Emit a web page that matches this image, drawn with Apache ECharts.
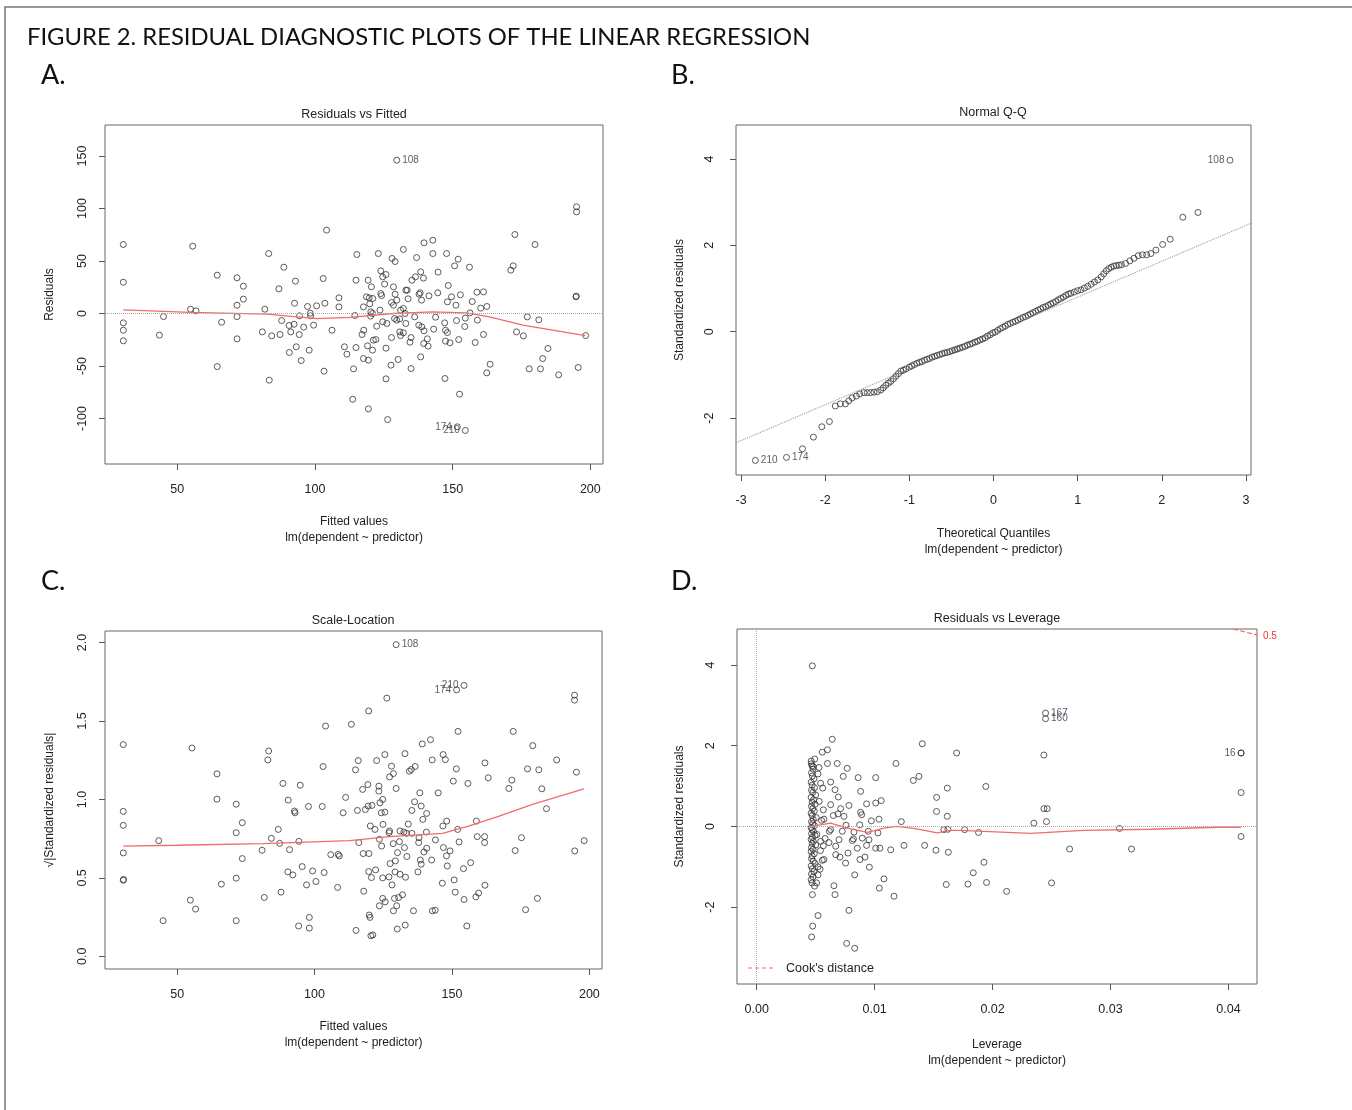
<!DOCTYPE html>
<html>
<head>
<meta charset="utf-8">
<script src="https://cdn.jsdelivr.net/npm/echarts@6/dist/echarts.min.js"></script>
<style>
  html, body { margin: 0; padding: 0; background: #fff; }
  #main { width: 1352px; height: 1110px; }
</style>
</head>
<body>
<div id="main"></div>
<script>
// A. Residuals vs Fitted
var fitA = [30.4,30.4,30.4,30.4,30.4,43.5,45,54.8,56.8,55.6,64.5,64.5,66.1,71.7,74,74,71.7,71.7,71.7,80.9,81.8,83.2,83.4,84.3,86.9,87.3,87.9,88.7,90.6,90.7,91.2,92.4,92.6,92.9,93.2,94.3,94.4,95,95.9,97.3,97.9,98.3,98.4,99.5,100.6,103,103.3,103.6,104.2,106.2,108.7,108.7,110.7,111.6,
  195,195,194.8,194.9,172.6,179.9,171.1,172,177.1,181.3,173.2,175.7,198.3,184.6,182.7,177.8,181.9,188.5,195.6,163.6,162.4,161.2,158.2,162.4,160.2,159,157.1,158.8,161.2,156.1,156.3,154.6,154.4,152.8,152,150.7,151.2,151.4,152.2,152.5,
  147.8,148.4,148.1,149.6,147.4,148.1,147.4,149,147.2,147.1,144.7,144.6,143.8,143.1,142.8,142.8,141.4,139.6,139.4,138.4,138.2,137.8,138.7,138.8,139.6,140.8,141.1,139.5,138.4,136.9,136.5,135.2,136.2,137.7,133.5,133,133.8,132.1,132.1,132.7,133,134.9,134.5,134.9,
  131.1,130.8,130.8,131.1,132.1,129.7,129.1,128.5,128.5,128.9,129.7,128,129.1,127.8,127.8,130.2,127.6,125.8,125.3,126.1,125.8,125.8,126.4,124.6,123.9,123.9,124.2,123.6,124.6,123,122.4,122.1,121.2,120.9,120.2,120.3,119.9,121,119.7,118.7,119.3,120.5,
  117.6,117.7,117.1,119.1,119.4,117.6,120.9,115.2,114.9,114.5,114.9,114,119.4,113.7];
var resA = [65.7,29.8,-8.9,-15.9,-26,-20.6,-2.9,4.1,2.5,64.1,36.5,-50.5,-8.3,34,26,13.7,7.9,-2.9,-24.1,-17.5,4.1,57.1,-63.5,-21.3,23.5,-20,-6.7,44.1,-11.4,-37.1,-17.5,-10.2,9.8,30.8,-31.7,-20,-2.2,-44.8,-13,6.7,-34.9,0.3,-2.2,-11.1,7.3,33.3,-54.9,9.8,79.4,-15.9,14.9,6.3,-31.7,-38.7,
  101.6,96.8,15.9,16.5,75.2,65.7,41.3,45.4,-3.2,-6,-17.5,-21.3,-21,-33.3,-42.9,-52.7,-52.7,-58.4,-51.4,-48.3,-56.5,-20,-27.6,6.7,5.1,-6.3,11.4,20.3,20.6,44.1,0.6,-4.4,-12.4,17.8,51.7,45.4,7.9,-6.7,-24.8,-76.8,
  57.1,26.7,11.1,15.9,-15.9,-18.1,-26.3,-27.9,-61.9,-8.9,39.4,19.7,-3.5,-14.9,69.8,57.1,16.8,67.3,33.7,39.7,19.7,18.4,12.7,-12.7,-16.5,-24.1,-31.1,-28.6,-41.3,53.3,34.9,31.7,-3.2,-11.1,22.2,22.2,14,61,4.8,0,-9.5,-22.9,-27.3,-52.4,
  3.2,-5.1,-17.5,-21,-18.4,12.7,18.4,25.4,7.9,-4.8,-6.3,52.4,49.5,10.5,-22.9,-43.8,-49.2,37.1,28,-9.5,-33,-62.2,-101,34.9,40.6,19,17.1,3.2,-7.9,57.1,-12.1,-24.8,-25.4,0,-2.5,1.6,9.2,14.3,14.9,15.9,31.7,25.4,
  6.3,-15.9,-20,-30.8,-44.4,-42.9,-34.9,56.2,31.7,-1.9,-32.4,-52.7,-90.8,-81.6];
var idA = ['108','174','210'];
var idFitA = [129.7,151.7,154.6];
var idResA = [146,-107.9,-111.4];
var smoothFitA = [30.4,54.8,82.5,100.6,112.7,128.4,142.8,155,163.4,175.5,198.2];
var smoothResA = [3.5,1,-0.6,-4.8,-3.6,0,1.6,0.6,-3.2,-11.1,-21];

// B. Normal Q-Q
var qqTheo = [-2.14,-2.04,-1.95,-1.88,-1.82,-1.76,-1.72,-1.68,-1.63,-1.59,-1.54,-1.50,-1.46,-1.42,-1.38,-1.34,-1.31,-1.28,-1.25,-1.22,-1.19,-1.16,-1.13,-1.10,-1.07,-1.04,-1.00,-0.97,-0.94,-0.91,-0.88,-0.85,-0.82,-0.79,-0.76,-0.73,-0.70,-0.67,-0.64,-0.61,-0.58,-0.55,-0.52,-0.49,-0.46,-0.43,-0.40,-0.37,-0.34,-0.31,-0.28,-0.25,-0.22,-0.19,-0.16,-0.13,-0.10,-0.07,-0.04,-0.01,
  0.02,0.05,0.08,0.11,0.14,0.17,0.20,0.23,0.26,0.29,0.32,0.35,0.38,0.41,0.44,0.47,0.50,0.53,0.56,0.59,0.62,0.65,0.68,0.71,0.74,0.77,0.80,0.83,0.86,0.89,0.92,0.96,1.00,1.04,1.08,1.12,1.16,1.20,1.24,1.28,1.31,1.34,1.37,1.40,1.43,1.46,1.49,1.52,1.57,1.62,1.67,1.72,1.77,1.82,1.87,1.93,2.01,2.10,2.25,2.43,-2.27];
var qqStd = [-2.44,-2.20,-2.08,-1.72,-1.67,-1.67,-1.60,-1.53,-1.49,-1.44,-1.41,-1.41,-1.41,-1.40,-1.39,-1.35,-1.30,-1.24,-1.19,-1.15,-1.09,-1.03,-0.97,-0.91,-0.89,-0.86,-0.82,-0.79,-0.76,-0.73,-0.71,-0.69,-0.66,-0.64,-0.62,-0.59,-0.57,-0.55,-0.53,-0.51,-0.49,-0.48,-0.46,-0.44,-0.42,-0.40,-0.38,-0.36,-0.34,-0.31,-0.29,-0.27,-0.24,-0.22,-0.19,-0.17,-0.14,-0.10,-0.07,-0.03,
  -0.01,0.03,0.07,0.10,0.13,0.17,0.19,0.22,0.24,0.27,0.30,0.33,0.35,0.38,0.41,0.44,0.47,0.50,0.53,0.56,0.58,0.61,0.64,0.67,0.70,0.74,0.77,0.80,0.84,0.87,0.89,0.92,0.95,0.97,1.01,1.05,1.10,1.15,1.20,1.27,1.34,1.41,1.46,1.49,1.52,1.53,1.54,1.55,1.58,1.64,1.70,1.76,1.78,1.78,1.81,1.89,2.02,2.14,2.65,2.76,-2.71];
var idB = ['210','174','108'];
var idTheoB = [-2.83,-2.46,2.81];
var idStdB = [-2.98,-2.91,3.97];
var qqLineX = [-3.3,3.3];
var qqLineY = [-2.77,2.71];

// C. Scale-Location
var fitC = [30.4,30.4,30.4,30.4,30.4,30.5,43.3,44.9,54.8,56.7,55.4,64.5,64.5,66.1,71.5,73.7,71.5,73.7,71.5,71.5,81.7,80.9,83.3,83,84.3,86.8,87.3,87.8,88.5,90.4,90.9,90.3,92.7,92.9,92.1,94.3,94.8,94.2,95.5,97.1,97.8,98.1,98.1,99.3,100.5,102.8,103.1,103.5,104,105.9,108.6,109,108.4,110.4,111.3,
  194.6,194.6,126.3,119.7,113.4,152.2,172.3,179.4,142.2,139.2,188.1,195.3,177.5,181.6,182.7,171.8,170.7,184.4,162,163.2,155.8,151.6,150.5,146.8,147.6,142.8,145,138.3,132.9,125.6,122.6,115.9,114.9,128,127.3,128.7,134.5,135.2,136.6,129.7,123.4,123.4,119.4,117.5,
  124.8,123.8,119.5,120.9,118.5,115.6,125.6,124.3,136.4,138.8,135.4,140.8,139.4,148.1,146.7,158.9,152.1,159.2,161.9,161.9,175.3,173,194.7,198.1,134.1,131.1,132.5,133.5,127.3,127.1,120.3,122,124.9,123.6,124.4,116.1,135.4,138,140.7,144,
  128.6,130.9,132.7,137.9,140.8,139.8,146.9,149.3,148,152.6,117.7,119.8,130.2,133.6,129.4,127.5,138.5,138.8,142.6,137.6,148.3,154.2,156.8,119.7,120.7,122.2,124.8,127.1,129.3,131.1,133.1,128.2,117.9,146.5,150.8,151.2,162,159.7,158.7,154.4,181.1,176.8,
  124.8,123.6,125.7,129.1,132,130.6,129.9,128.7,136,142.9,143.9,119.9,120.2,115.1,120.5,121.2,130.1,133,155.4];
var sqrtC = [1.35,0.924,0.835,0.659,0.485,0.49,0.737,0.227,0.358,0.301,1.328,1.163,1.002,0.46,0.97,0.852,0.788,0.623,0.498,0.227,0.375,0.676,1.309,1.252,0.752,0.809,0.72,0.409,1.102,0.996,0.68,0.538,0.926,0.915,0.519,0.733,1.091,0.193,0.572,0.455,0.955,0.248,0.18,0.544,0.477,0.955,1.21,0.534,1.468,0.648,0.65,0.64,0.439,0.915,1.013,
  1.665,1.633,1.646,1.564,1.479,1.434,1.434,1.343,1.381,1.354,1.252,1.174,1.195,1.189,1.068,1.123,1.07,0.941,1.233,1.138,1.102,1.195,1.117,1.286,1.254,1.252,1.042,1.042,1.292,1.286,1.248,1.248,1.189,1.212,1.144,1.165,1.18,1.191,1.21,1.07,1.085,1.053,1.095,1.064,
  1,0.979,0.958,0.962,0.936,0.93,0.919,0.915,0.985,0.958,0.93,0.911,0.873,0.862,0.831,0.862,0.809,0.763,0.763,0.725,0.756,0.674,0.672,0.737,0.843,0.799,0.792,0.784,0.799,0.788,0.831,0.809,0.841,0.746,0.703,0.725,0.784,0.756,0.792,0.742,
  0.718,0.731,0.693,0.725,0.689,0.665,0.693,0.672,0.64,0.729,0.655,0.655,0.661,0.636,0.608,0.591,0.614,0.587,0.614,0.538,0.576,0.559,0.597,0.54,0.502,0.551,0.5,0.506,0.538,0.523,0.504,0.455,0.415,0.466,0.487,0.409,0.453,0.403,0.379,0.362,0.369,0.297,
  0.369,0.322,0.347,0.369,0.392,0.375,0.322,0.29,0.29,0.29,0.294,0.263,0.248,0.165,0.131,0.136,0.174,0.199,0.193];
var idC = ['108','174','210'];
var idFitC = [129.7,151.7,154.4];
var idSqrtC = [1.987,1.699,1.727];
var smoothFitC = [30.4,49.8,81.2,112.7,127.3,146.6,156.3,167.2,179.3,198];
var smoothSqrtC = [0.703,0.708,0.718,0.737,0.763,0.784,0.831,0.894,0.968,1.068];

// D. Residuals vs Leverage
var levD = [0.00472,0.00641,0.0060,0.00556,0.00492,0.00463,0.0048,0.00528,0.0060,0.00683,0.00768,0.00734,0.0086,0.01009,0.01181,0.01404,0.01695,0.01328,0.01376,0.00627,0.00542,0.00664,0.00881,0.00692,0.00782,0.00932,0.01009,0.01056,0.00627,0.00565,0.00712,0.0065,0.00689,0.0074,0.00881,0.0089,0.00972,0.01037,0.01226,0.00873,0.00757,
  0.01525,0.01525,0.01616,0.01616,0.01587,0.01621,0.0057,0.00627,0.00616,0.00726,0.00825,0.00946,0.01028,0.00895,0.00952,0.00811,0.0082,0.00698,0.0067,0.00613,0.00565,0.00542,0.00932,0.01009,0.01045,0.01136,0.01249,0.01424,0.0152,0.01625,
  0.00853,0.00774,0.0067,0.00706,0.00918,0.00876,0.0057,0.00556,0.00754,0.00955,0.00537,0.0052,0.00831,0.00508,0.01079,0.0104,0.00655,0.00664,0.01164,0.01607,0.00782,0.0052,0.00472,0.00475,0.00466,0.00763,0.00831,
  0.01943,0.02435,0.02435,0.02463,0.02457,0.0235,0.01763,0.01881,0.01927,0.01836,0.01791,0.01949,0.02119,0.025,0.02653,0.03076,0.03178,0.04107,0.04107,0.04107,
  0.00462,0.0047,0.00478,0.00465,0.00472,0.00485,0.00462,0.0047,0.0049,0.00465,0.00475,0.005,0.00462,0.00482,0.0047,0.00495,0.00465,0.00475,0.00488,0.00462,0.0047,0.00505,0.0048,0.00465,0.00475,0.0049,
  0.00462,0.0047,0.00482,0.00465,0.00495,0.00472,0.00462,0.0048,0.0047,0.005,0.00465,0.00478,0.00462,0.00488,0.0047,0.00465,0.0048,0.00495,0.00462,0.00472,0.00485,0.00465,0.00478,0.00462,0.0047,0.0049,
  0.0052,0.0053,0.0051,0.0054,0.0052,0.0055,0.0056,0.0058];
var stdD = [3.98,2.16,1.9,1.84,1.67,1.55,1.48,1.46,1.56,1.56,1.44,1.24,1.21,1.21,1.56,2.05,1.82,1.14,1.24,1.1,1.07,0.91,0.87,0.73,0.52,0.56,0.58,0.64,0.54,0.41,0.44,0.27,0.31,0.25,0.35,0.29,0.14,0.18,0.12,0.04,0.03,
  0.72,0.37,0.95,0.25,-0.08,-0.07,0.18,-0.08,-0.12,-0.12,-0.14,-0.12,-0.16,-0.29,-0.33,-0.35,-0.31,-0.33,-0.49,-0.4,-0.48,-0.37,-0.47,-0.54,-0.54,-0.58,-0.47,-0.47,-0.59,-0.64,
  -0.54,-0.66,-0.7,-0.76,-0.76,-0.82,-0.82,-0.84,-0.91,-1.01,-1.06,-1.2,-1.2,-1.4,-1.3,-1.53,-1.47,-1.69,-1.73,-1.44,-2.08,-2.21,-1.69,-2.47,-2.74,-2.9,-3.02,
  0.99,1.77,0.44,0.44,0.12,0.08,-0.08,-0.15,-0.89,-1.15,-1.43,-1.39,-1.61,-1.4,-0.56,-0.05,-0.56,1.82,0.84,-0.25,
  1.62,1.5,1.42,1.33,1.25,1.18,1.1,1.02,0.96,0.9,0.84,0.78,0.72,0.66,0.6,0.55,0.5,0.44,0.38,0.33,0.27,0.22,0.17,0.12,0.07,0.02,
  -0.03,-0.08,-0.13,-0.18,-0.22,-0.27,-0.32,-0.37,-0.42,-0.46,-0.52,-0.57,-0.62,-0.68,-0.73,-0.8,-0.86,-0.92,-0.98,-1.05,-1.12,-1.18,-1.25,-1.32,-1.4,-1.48,
  1.3,0.62,-0.2,-0.6,-1.0,0.15,0.95,-0.3];
var idD = ['167','160','16'];
var idLevD = [0.02449,0.02449,0.04107];
var idStdD = [2.81,2.67,1.82];
var smoothLevD = [0.00466,0.00627,0.00768,0.00938,0.0108,0.0119,0.01333,0.01531,0.01644,0.0173,0.02322,0.02775,0.03341,0.03907,0.04107];
var smoothStdD = [0,0.08,-0.04,-0.15,-0.04,0,-0.05,-0.16,-0.1,-0.1,-0.17,-0.1,-0.07,-0.02,-0.02];
var cookLev = [0.0404,0.0414,0.0424];
var cookStd = [4.894,4.82,4.75];

var FONT = 'Liberation Sans, Arial, sans-serif';

function pairs(xs, ys) {
  return xs.map(function (x, i) { return [x, ys[i]]; });
}
function labelled(xs, ys, ids, sides) {
  return xs.map(function (x, i) {
    return { value: [x, ys[i]], label: { show: true, formatter: ids[i], position: sides[i] } };
  });
}

function xAxisFor(g, min, max, ticks, name, gap, fmt) {
  return {
    type: 'value', gridIndex: g, min: min, max: max,
    name: name, nameLocation: 'middle', nameGap: gap, nameMoveOverlap: false,
    nameTextStyle: { fontSize: 12, color: '#222', lineHeight: 16, fontFamily: FONT },
    axisLine: { show: false, onZero: false },
    splitLine: { show: false },
    axisTick: { show: true, length: 6, customValues: ticks, lineStyle: { color: '#555' } },
    axisLabel: { customValues: ticks, formatter: fmt, margin: 19, fontSize: 12.5, color: '#222', fontFamily: FONT }
  };
}
function yAxisFor(g, min, max, ticks, name, gap, margin, fmt) {
  return {
    type: 'value', gridIndex: g, min: min, max: max,
    name: name, nameLocation: 'middle', nameGap: gap, nameMoveOverlap: false,
    nameTextStyle: { fontSize: 12, color: '#222', fontFamily: FONT },
    axisLine: { show: false, onZero: false },
    splitLine: { show: false },
    axisTick: { show: true, length: 6, customValues: ticks, lineStyle: { color: '#555' } },
    axisLabel: { customValues: ticks, formatter: fmt, rotate: 90, margin: margin, fontSize: 12.5, color: '#222', fontFamily: FONT }
  };
}
function gridAt(l, t, w, h) {
  return { left: l, top: t, width: w, height: h, show: true, borderColor: '#666', borderWidth: 1, outerBoundsMode: 'none', containLabel: false };
}
function points(name, g, data) {
  return {
    name: name, type: 'scatter', xAxisIndex: g, yAxisIndex: g, data: data,
    symbol: 'circle', symbolSize: 6, silent: true,
    itemStyle: { color: 'rgba(0,0,0,0)', borderColor: '#333', borderWidth: 1 },
    label: { distance: 2, fontSize: 10, color: '#334', fontFamily: FONT }
  };
}
function smooth(g, data) {
  return {
    type: 'line', xAxisIndex: g, yAxisIndex: g, data: data, showSymbol: false, silent: true,
    lineStyle: { color: '#f26b6b', width: 1.3 }
  };
}
function refLine(g, line) {
  return {
    type: 'line', xAxisIndex: g, yAxisIndex: g, data: [], silent: true,
    markLine: { silent: true, symbol: 'none', label: { show: false },
      lineStyle: { color: '#aaa', type: 'dotted', width: 1 }, data: line }
  };
}
function fmtInt(v) { return String(Math.round(v)); }
function fmt1(v) { return v.toFixed(1); }
function fmt2(v) { return v.toFixed(2); }

var chart = echarts.init(document.getElementById('main'), null, { renderer: 'canvas' });

var option = {
  animation: false,
  backgroundColor: '#fff',
  grid: [
    gridAt(105, 125, 498, 339),
    gridAt(736, 125, 515, 350),
    gridAt(105, 631, 497, 338),
    gridAt(737, 629, 520, 355)
  ],
  xAxis: [
    xAxisFor(0, 23.75, 204.6, [50, 100, 150, 200], 'Fitted values\nlm(dependent ~ predictor)', 50, fmtInt),
    xAxisFor(1, -3.06, 3.06, [-3, -2, -1, 0, 1, 2, 3], 'Theoretical Quantiles\nlm(dependent ~ predictor)', 51, fmtInt),
    xAxisFor(2, 23.75, 204.6, [50, 100, 150, 200], 'Fitted values\nlm(dependent ~ predictor)', 50, fmtInt),
    xAxisFor(3, -0.00167, 0.04242, [0, 0.01, 0.02, 0.03, 0.04], 'Leverage\nlm(dependent ~ predictor)', 53, fmt2)
  ],
  yAxis: [
    yAxisFor(0, -143.3, 179.5, [-100, -50, 0, 50, 100, 150], 'Residuals', 49, 16, fmtInt),
    yAxisFor(1, -3.317, 4.785, [-2, 0, 2, 4], 'Standardized residuals', 50, 20, fmtInt),
    yAxisFor(2, -0.081, 2.074, [0, 0.5, 1, 1.5, 2], '\u221A|Standardized residuals|', 49, 16, fmt1),
    yAxisFor(3, -3.906, 4.894, [-2, 0, 2, 4], 'Standardized residuals', 51, 20, fmtInt)
  ],
  series: [
    refLine(0, [{ yAxis: 0 }]),
    smooth(0, pairs(smoothFitA, smoothResA)),
    points('A', 0, pairs(fitA, resA)),
    points('A ids', 0, labelled(idFitA, idResA, idA, ['right', 'left', 'left'])),

    {
      type: 'line', xAxisIndex: 1, yAxisIndex: 1, data: pairs(qqLineX, qqLineY), showSymbol: false, silent: true,
      lineStyle: { color: '#888', type: 'dotted', width: 1 }
    },
    points('B', 1, pairs(qqTheo, qqStd)),
    points('B ids', 1, labelled(idTheoB, idStdB, idB, ['right', 'right', 'left'])),

    smooth(2, pairs(smoothFitC, smoothSqrtC)),
    points('C', 2, pairs(fitC, sqrtC)),
    points('C ids', 2, labelled(idFitC, idSqrtC, idC, ['right', 'left', 'left'])),

    refLine(3, [{ yAxis: 0 }, { xAxis: 0 }]),
    smooth(3, pairs(smoothLevD, smoothStdD)),
    {
      type: 'line', xAxisIndex: 3, yAxisIndex: 3, data: pairs(cookLev, cookStd), showSymbol: false, silent: true,
      lineStyle: { color: '#f26b6b', type: 'dashed', width: 1.2 }
    },
    points('D', 3, pairs(levD, stdD)),
    points('D ids', 3, labelled(idLevD, idStdD, idD, ['right', 'right', 'left']))
  ],
  graphic: [
    { type: 'rect', shape: { x: 5, y: 7, width: 1400, height: 1200 }, style: { fill: 'none', stroke: '#777', lineWidth: 1.5 }, silent: true },
    { type: 'text', x: 27, y: 37, style: { text: 'FIGURE 2. RESIDUAL DIAGNOSTIC PLOTS OF THE LINEAR REGRESSION', font: '23.8px Lato, "Open Sans", sans-serif', fill: '#111', textVerticalAlign: 'middle' } },
    { type: 'text', x: 41, y: 75, style: { text: 'A.', font: '27px Lato, "Open Sans", sans-serif', fill: '#111', textVerticalAlign: 'middle' } },
    { type: 'text', x: 671, y: 75, style: { text: 'B.', font: '27px Lato, "Open Sans", sans-serif', fill: '#111', textVerticalAlign: 'middle' } },
    { type: 'text', x: 41, y: 581, style: { text: 'C.', font: '27px Lato, "Open Sans", sans-serif', fill: '#111', textVerticalAlign: 'middle' } },
    { type: 'text', x: 671, y: 581, style: { text: 'D.', font: '27px Lato, "Open Sans", sans-serif', fill: '#111', textVerticalAlign: 'middle' } },
    { type: 'text', x: 354, y: 115, style: { text: 'Residuals vs Fitted', font: '12.5px ' + FONT, fill: '#222', textAlign: 'center', textVerticalAlign: 'middle' } },
    { type: 'text', x: 993, y: 113, style: { text: 'Normal Q-Q', font: '12.5px ' + FONT, fill: '#222', textAlign: 'center', textVerticalAlign: 'middle' } },
    { type: 'text', x: 353, y: 621, style: { text: 'Scale-Location', font: '12.5px ' + FONT, fill: '#222', textAlign: 'center', textVerticalAlign: 'middle' } },
    { type: 'text', x: 997, y: 619, style: { text: 'Residuals vs Leverage', font: '12.5px ' + FONT, fill: '#222', textAlign: 'center', textVerticalAlign: 'middle' } },
    { type: 'line', shape: { x1: 748, y1: 968, x2: 776, y2: 968 }, style: { stroke: '#f26b6b', lineWidth: 1.2, lineDash: [4, 3] }, silent: true },
    { type: 'text', x: 786, y: 969, style: { text: "Cook's distance", font: '12.5px ' + FONT, fill: '#222', textVerticalAlign: 'middle' } },
    { type: 'text', x: 1263, y: 636, style: { text: '0.5', font: '10px ' + FONT, fill: '#e33', textVerticalAlign: 'middle' } }
  ]
};

chart.setOption(option);
</script>
</body>
</html>
